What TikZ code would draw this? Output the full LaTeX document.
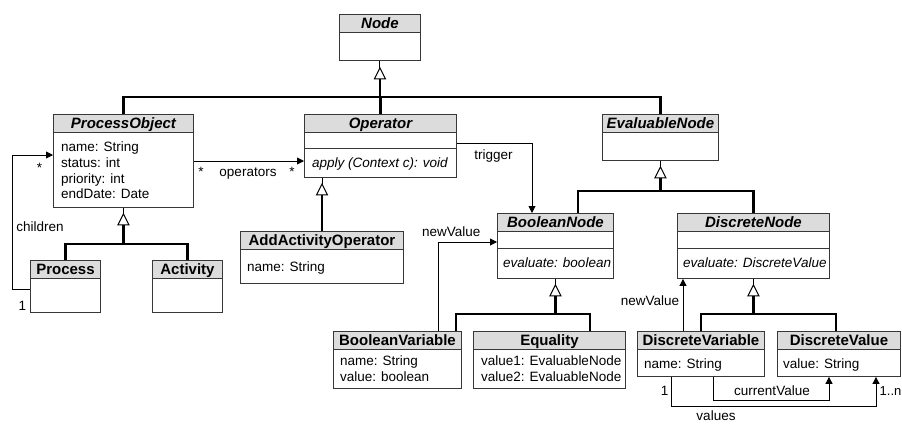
\documentclass[tikz,border=0pt]{standalone}
\usepackage{fontspec}
\setmainfont{Liberation Sans}
\usetikzlibrary{arrows.meta,calc}
\definecolor{hdrgray}{RGB}{220,220,220}
\definecolor{bordergray}{RGB}{55,55,55}
\tikzset{
 cls/.style={draw=bordergray, line width=0.9pt, fill=white, inner sep=0pt, anchor=north west},
 hdr/.style={draw=bordergray, line width=0.9pt, fill=hdrgray, inner sep=0pt, anchor=north west,
   minimum height=17.5pt, text height=10.5pt, text depth=0pt, font=\fontsize{15}{17}\selectfont\bfseries},
 abs/.style={hdr, font=\fontsize{15}{17}\selectfont\bfseries\itshape},
 sepline/.style={draw=bordergray, line width=0.9pt},
 attr/.style={anchor=base west, inner sep=0pt, font=\fontsize{13.5}{16}\selectfont},
 meth/.style={attr, font=\fontsize{13.5}{16}\selectfont\itshape},
 lbl/.style={anchor=base, inner sep=0pt, font=\fontsize{13.5}{16}\selectfont},
 gen/.style={line width=2.4pt, black, line join=miter},
 genthin/.style={line width=1pt, black},
 tri/.style={draw=black, line width=1pt, fill=white, line join=miter},
 assoc/.style={line width=0.9pt, black, -{Triangle[length=7pt,width=7pt]}},
}
\newcommand{\umlclass}[7]{%
 \node[cls, minimum width=#4pt, minimum height=#5pt] (#1) at (#2,#3) {};
 \node[#6, minimum width=#4pt] (#1h) at (#2,#3) {#7};
}
\newcommand{\gentri}[1]{\draw[tri] (#1) -- ++(-5.5,11) -- ++(11,0) -- cycle;}
\begin{document}
\begin{tikzpicture}[x=1pt,y=-1pt]
\fill[white] (0,0) rectangle (902,424);
\useasboundingbox (0,0) rectangle (902,424);

% classes
\umlclass{node}{339}{14}{81}{46}{abs}{Node}
\umlclass{po}{53}{114}{140}{93}{abs}{ProcessObject}
\umlclass{op}{304}{114}{152}{63}{abs}{Operator}
\umlclass{ev}{602}{114}{116}{46}{abs}{EvaluableNode}
\umlclass{bn}{497}{213}{116}{65}{abs}{BooleanNode}
\umlclass{dn}{677}{213}{152}{65}{abs}{DiscreteNode}
\umlclass{proc}{30}{260}{70}{52}{hdr}{Process}
\umlclass{act}{152}{260}{70}{52}{hdr}{Activity}
\umlclass{aao}{240}{231}{163}{52}{hdr}{AddActivityOperator}
\umlclass{bv}{333}{331}{128}{57}{hdr}{BooleanVariable}
\umlclass{eq}{473}{331}{152}{57}{hdr}{Equality}
\umlclass{dvar}{637}{331}{127}{45}{hdr}{DiscreteVariable}
\umlclass{dval}{777}{331}{123}{45}{hdr}{DiscreteValue}

% compartment separators
\draw[sepline] ($(op.north west)+(0,34)$) -- ($(op.north east)+(0,34)$);
\draw[sepline] ($(bn.north west)+(0,35)$) -- ($(bn.north east)+(0,35)$);
\draw[sepline] ($(dn.north west)+(0,35)$) -- ($(dn.north east)+(0,35)$);

% attributes and operations
\node[attr] (poa1) at (61,151) {name: String};
\node[attr] (poa2) at (61,167) {status: int};
\node[attr] (poa3) at (61,183) {priority: int};
\node[attr] (poa4) at (61,198.5) {endDate: Date};
\node[meth] (opm) at (312,167) {apply (Context c): void};
\node[meth] (bnm) at (503,267) {evaluate: boolean};
\node[meth] (dnm) at (683,267) {evaluate: DiscreteValue};
\node[attr] (aaoa) at (247,271) {name: String};
\node[attr] (bva1) at (340,365) {name: String};
\node[attr] (bva2) at (340,381) {value: boolean};
\node[attr] (eqa1) at (481,365) {value1: EvaluableNode};
\node[attr] (eqa2) at (481,381) {value2: EvaluableNode};
\node[attr] (dvara) at (644,368) {name: String};
\node[attr] (dvala) at (783,368) {value: String};

% generalization: Node
\draw[genthin] (node.south) -- ++(0,7) coordinate (tN);
\gentri{tN}
\coordinate (barN) at ($(node.south)+(0,36)$);
\draw[gen] ($(tN)+(0,11)$) -- (barN);
\draw[gen] (po.north) |- (barN) -| (ev.north);
\draw[gen] (op.north) -- (op.north |- barN);

% generalization: ProcessObject
\draw[genthin] (po.south) -- ++(0,6) coordinate (tP);
\gentri{tP}
\coordinate (barP) at ($(po.south)+(0,36)$);
\draw[gen] ($(tP)+(0,11)$) -- (barP);
\draw[gen] (proc.north) |- (barP) -| (act.north);

% generalization: Operator
\draw[genthin] ($(op.south west)+(18,0)$) -- ++(0,6) coordinate (tO);
\gentri{tO}
\draw[gen] ($(tO)+(0,11)$) -- (tO |- aao.north);

% generalization: EvaluableNode
\draw[genthin] (ev.south) -- ++(0,6) coordinate (tE);
\gentri{tE}
\coordinate (barE) at ($(ev.south)+(0,30)$);
\draw[gen] ($(tE)+(0,11)$) -- (barE);
\draw[gen] ($(bn.north west)+(81,0)$) |- (barE) -| (dn.north);

% generalization: BooleanNode
\draw[genthin] (bn.south) -- ++(0,6) coordinate (tB);
\gentri{tB}
\coordinate (barB) at ($(bn.south)+(0,35)$);
\draw[gen] ($(tB)+(0,11)$) -- (barB);
\draw[gen] ($(bv.north west)+(123,0)$) |- (barB) -| ($(eq.north west)+(117,0)$);

% generalization: DiscreteNode
\draw[genthin] (dn.south) -- ++(0,6) coordinate (tD);
\gentri{tD}
\coordinate (barD) at ($(dn.south)+(0,35)$);
\draw[gen] ($(tD)+(0,11)$) -- (barD);
\draw[gen] (dvar.north) |- (barD) -| ($(dval.north west)+(59,0)$);

% associations
\draw[assoc] ($(po.north east)+(0,47)$) -- ($(op.north west)+(0,47)$);
\node[lbl] (m1) at (201,176) {*};
\node[lbl] (m2) at (248,176) {operators};
\node[lbl] (m3) at (292,176) {*};

\draw[assoc] ($(op.north east)+(0,29)$) -| ($(bn.north west)+(35,0)$);
\node[lbl] (m4) at (493.5,159) {trigger};

\draw[assoc] ($(proc.north west)+(0,29)$) -- ++(-18,0) |- ($(po.north west)+(0,41)$);
\node[lbl] (m5) at (39.5,172.5) {*};
\node[lbl] (m6) at (40,231) {children};
\node[lbl] (m7) at (22.5,310) {1};

\draw[assoc] ($(bv.north west)+(105,0)$) |- ($(bn.north west)+(0,29)$);
\node[lbl, anchor=base west] (m8) at (422,236) {newValue};

\draw[assoc] ($(dvar.north west)+(46,0)$) coordinate (nv2) -- (nv2 |- dn.south);
\node[lbl] (m9) at (650,305) {newValue};

\draw[assoc] ($(dvar.south west)+(76,0)$) -- ++(0,24) -| ($(dval.south west)+(52,0)$);
\node[lbl] (m10) at (772,395) {currentValue};

\draw[assoc] ($(dvar.south west)+(34,0)$) -- ++(0,30) -| ($(dval.south west)+(99,0)$);
\node[lbl] (m11) at (716,420.5) {values};
\node[lbl] (m12) at (664.5,395) {1};
\node[lbl, anchor=base west, font=\fontsize{13}{15}\selectfont] (m13) at (879.5,395) {1..n};
\end{tikzpicture}
\end{document}
